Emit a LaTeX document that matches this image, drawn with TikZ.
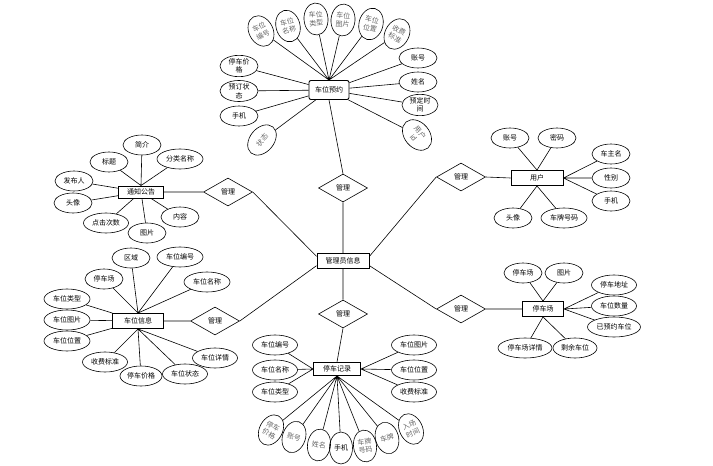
\documentclass[tikz,border=0pt]{standalone}
\usepackage{fontspec}
\setmainfont{Noto Sans CJK SC}
\usetikzlibrary{shapes.geometric}
\tikzset{
	shuxing/.style={draw, ellipse, inner sep=0pt, minimum width=38, minimum height=20, align=center},
	shuxingb/.style={shuxing, text=black!60, minimum width=24, minimum height=32},
	shiti/.style={draw, line width=0.9pt, inner sep=1pt, minimum height=15},
	guanxi/.style={draw, diamond, inner sep=0pt, minimum width=49, minimum height=28},
}
\begin{document}
\begin{tikzpicture}[x=1pt,y=-1pt,font=\fontsize{7}{8.6}\selectfont,line width=0.6pt]
				\useasboundingbox (0,0) rectangle (713,466);
				\node[shiti, minimum width=52] (G) at (343,261) {管理员信息};
				\node[guanxi] (R1) at (343,188) {管理};
				\node[guanxi] (R2) at (228,192) {管理};
				\node[guanxi] (R3) at (215,321) {管理};
				\node[guanxi] (R4) at (461,177) {管理};
				\node[guanxi] (R5) at (461,309) {管理};
				\node[guanxi] (R6) at (343,314) {管理};
				\node[shiti, rounded corners=2pt, minimum width=40, minimum height=19] (Y) at (329,90) {车位预约};
				\node[shiti, minimum width=45, minimum height=12] (T) at (141,192) {通知公告};
				\node[shiti, minimum width=52] (U) at (537,178) {用户};
				\node[shiti, minimum width=51] (X) at (138,321) {车位信息};
				\node[shiti, minimum width=41] (C) at (543,309) {停车场};
				\node[shiti, minimum width=47, minimum height=13] (J) at (337,369) {停车记录};
				\draw (R1.south) -- (G.north) (R1.north) -- (Y.south);
				\draw (R2.west) -- (T.east) (R2.east) -- (G.170);
				\draw (R3.west) -- (X.east) (R3.east) -- (G.190);
				\draw (R4.east) -- (U.west) (R4.west) -- (G.10);
				\draw (R5.east) -- (C.west) (R5.west) -- (G.350);
				\draw (G.south) -- (R6.north) (R6.south) -- (J.north);
				% 车位预约
				\node[shuxingb, rotate=28] (Y1) at (261,31) {车位\\编号};
				\node[shuxingb, rotate=15] (Y2) at (288,26) {车位\\名称};
				\node[shuxingb, rotate=4] (Y3) at (316,19) {车位\\类型};
				\node[shuxingb, rotate=-5] (Y4) at (343,20) {车位\\图片};
				\node[shuxingb, rotate=-14] (Y5) at (371,24) {车位\\位置};
				\node[shuxingb, rotate=-28] (Y6) at (397,34) {收费\\标准};
				\node[shuxing] (Y7) at (418,58) {账号};
				\node[shuxing] (Y8) at (418,82) {姓名};
				\node[shuxing, minimum width=36] (Y9) at (420,105) {预定时\\间};
				\node[shuxingb, rotate=-50, minimum width=34, minimum height=25] (Y10) at (417,135) {用户\\id};
				\node[shuxingb, rotate=50, minimum width=34, minimum height=24] (Y11) at (262,140) {状态};
				\node[shuxing] (Y12) at (239,116) {手机};
				\node[shuxing] (Y13) at (239,91) {预订状\\态};
				\node[shuxing] (Y14) at (239,66) {停车价\\格};
				\draw (Y1) -- (Y.north) (Y2) -- (Y.north) (Y3) -- (Y.north) (Y4) -- (Y.north) (Y5) -- (Y.north) (Y6) -- (Y.north);
				\draw (Y7) -- (Y) (Y8) -- (Y) (Y9) -- (Y) (Y10) -- (Y) (Y11) -- (Y) (Y12) -- (Y) (Y13) -- (Y) (Y14) -- (Y);
				% 通知公告
				\node[shuxing] (T1) at (142,145) {简介};
				\node[shuxing] (T2) at (109,162) {标题};
				\node[shuxing, minimum width=46] (T3) at (180,159) {分类名称};
				\node[shuxing] (T4) at (74,181) {发布人};
				\node[shuxing] (T5) at (73,203) {头像};
				\node[shuxing, minimum width=45] (T6) at (106,223) {点击次数};
				\node[shuxing] (T7) at (147,233) {图片};
				\node[shuxing] (T8) at (180,217) {内容};
				\draw (T1) -- (T.north) (T2) -- (T.north) (T3) -- (T.north);
				\draw (T4) -- (T) (T5) -- (T) (T6) -- (T) (T7) -- (T) (T8) -- (T);
				% 用户
				\node[shuxing] (U1) at (510,138) {账号};
				\node[shuxing] (U2) at (557,138) {密码};
				\node[shuxing] (U3) at (611,154) {车主名};
				\node[shuxing] (U4) at (611,178) {性别};
				\node[shuxing] (U5) at (611,201) {手机};
				\node[shuxing, minimum width=46] (U6) at (564,218) {车牌号码};
				\node[shuxing] (U7) at (513,218) {头像};
				\draw (U1) -- (U.north) (U2) -- (U.north) (U3) -- (U.east) (U4) -- (U.east) (U5) -- (U.east) (U6) -- (U.south) (U7) -- (U.south);
				% 车位信息
				\node[shuxing] (X1) at (131,258) {区域};
				\node[shuxing, minimum width=46] (X2) at (180,257) {车位编号};
				\node[shuxing] (X3) at (104,279) {停车场};
				\node[shuxing, minimum width=46] (X4) at (207,282) {车位名称};
				\node[shuxing, minimum width=46] (X5) at (67,299) {车位类型};
				\node[shuxing, minimum width=46] (X6) at (67,320) {车位图片};
				\node[shuxing, minimum width=46] (X7) at (67,341) {车位位置};
				\node[shuxing, minimum width=45] (X8) at (105,362) {收费标准};
				\node[shuxing, minimum width=42] (X9) at (141,376) {停车价格};
				\node[shuxing, minimum width=45] (X10) at (185,374) {车位状态};
				\node[shuxing, minimum width=45] (X11) at (215,358) {车位详情};
				\draw (X1) -- (X.north) (X2) -- (X.north) (X3) -- (X.north) (X4) -- (X.north);
				\draw (X5) -- (X) (X6) -- (X) (X7) -- (X);
				\draw (X8) -- (X.south) (X9) -- (X.south) (X10) -- (X.south) (X11) -- (X.south);
				% 停车场
				\node[shuxing] (C1) at (523,273) {停车场};
				\node[shuxing] (C2) at (564,273) {图片};
				\node[shuxing, minimum width=45] (C3) at (614,285) {停车地址};
				\node[shuxing, minimum width=45] (C4) at (614,306) {车位数量};
				\node[shuxing, minimum width=53] (C5) at (614,327) {已预约车位};
				\node[shuxing, minimum width=54] (C6) at (525,348) {停车场详情};
				\node[shuxing, minimum width=44] (C7) at (575,348) {剩余车位};
				\draw (C1) -- (C.north) (C2) -- (C.north) (C3) -- (C.east) (C4) -- (C.east) (C5) -- (C.east) (C6) -- (C.south) (C7) -- (C.south);
				% 停车记录
				\node[shuxing, minimum width=45] (J1) at (275,345) {车位编号};
				\node[shuxing, minimum width=45] (J2) at (275,370) {车位名称};
				\node[shuxing, minimum width=45] (J3) at (275,392) {车位类型};
				\node[shuxing, minimum width=45] (J4) at (414,345) {车位图片};
				\node[shuxing, minimum width=45] (J5) at (414,370) {车位位置};
				\node[shuxing, minimum width=45] (J6) at (414,392) {收费标准};
				\node[shuxingb, rotate=-28, minimum width=23] (J7) at (271,430) {停车\\价格};
				\node[shuxingb, rotate=-18, minimum width=23] (J8) at (294,437) {账号};
				\node[shuxingb, rotate=-8, minimum width=23] (J9) at (319,445) {姓名};
				\node[shuxingb, text=black, minimum width=23] (J10) at (341,448) {手机};
				\node[shuxingb, rotate=8, minimum width=23] (J11) at (365,446) {车牌\\号码};
				\node[shuxingb, rotate=16, minimum width=23] (J12) at (387,438) {车牌};
				\node[shuxingb, rotate=26, minimum width=23] (J13) at (411,429) {入场\\时间};
				\draw (J1) -- (J.west) (J2) -- (J.west) (J3) -- (J.west) (J4) -- (J.east) (J5) -- (J.east) (J6) -- (J.east);
				\draw (J7) -- (J.south) (J8) -- (J.south) (J9) -- (J.south) (J10) -- (J.south) (J11) -- (J.south) (J12) -- (J.south) (J13) -- (J.south);
			\end{tikzpicture}
\end{document}
